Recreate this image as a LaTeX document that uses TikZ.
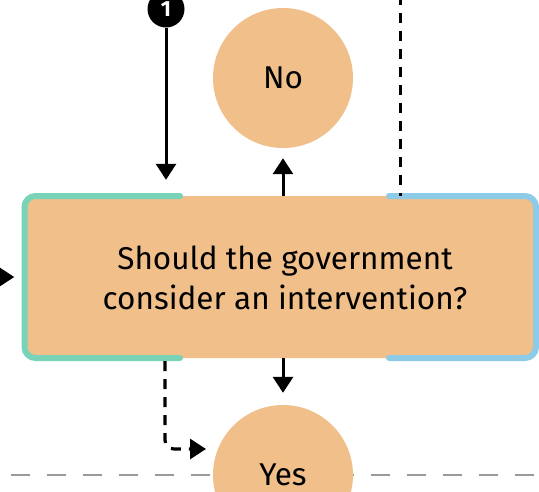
\documentclass[tikz,border=0pt]{standalone}
\usepackage{fontspec}
\setmainfont{Fira Sans}
\usetikzlibrary{arrows.meta}
\definecolor{peach}{HTML}{F0BF8A}
\definecolor{mint}{HTML}{78D3B8}
\definecolor{sky}{HTML}{8ECBE6}
\definecolor{rule}{HTML}{9A9A9A}
\tikzset{
  label text/.style={font=\fontsize{31.5}{40}\selectfont, text=black},
  answer/.style={circle, fill=peach, minimum size=140pt, inner sep=0pt, label text},
  flow/.style={line width=3pt, -{Triangle[length=16pt, width=20pt]}},
  dashflow/.style={line width=3.2pt, dash pattern=on 10pt off 8pt},
  bracket/.style={line width=6pt, line cap=round, rounded corners=11pt},
}
\begin{document}
\begin{tikzpicture}[x=1pt, y=-1pt]
  \useasboundingbox (0,0) rectangle (539,491);
  \clip (0,0) rectangle (539,491);

  % horizontal separator behind the lower answer
  \coordinate (sepL) at (11,475);
  \coordinate (sepR) at (545,475);
  \draw[rule, line width=2pt, dash pattern=on 19pt off 17pt] (sepL) -- (sepR);

  % decision box
  \node[rectangle, fill=peach, rounded corners=10pt, minimum width=511.5pt,
        minimum height=162pt, inner sep=0pt] (box) at (280.25,277) {};
  \node[label text, align=center] (q) at (285,278)
    {Should the government\\consider an intervention?};

  % coloured corner brackets
  \draw[bracket, mint] (180,196) -| (24.5,358) -- (180,358);
  \draw[bracket, sky] (389,196) -| (536,358) -- (389,358);

  % answers
  \node[answer] (no) at (283,78) {No};
  \node[answer] (yes) at (283,475) {Yes};

  % step marker
  \node[circle, fill=black, minimum size=37pt, inner sep=0pt, text=white,
        font=\fontsize{22}{22}\selectfont\bfseries] (one) at (166,9) {1};

  % solid connectors
  \draw[flow, shorten >=16pt] (one.south) -- (one.south |- box.north);
  \draw[flow, shorten >=10pt] (no.south |- box.north) -- (no.south);
  \draw[flow, shorten >=12pt] (yes.north |- box.south) -- (yes.north);
  \coordinate (inL) at (-10,277);
  \draw[flow, shorten >=10pt] (inL) -- (box.west);

  % dashed connectors
  \coordinate (topR) at (400.5,-5);
  \draw[dashflow] (topR) -- (topR |- box.north);
  \coordinate (dstart) at (165,361);
  \coordinate (dtip) at (206,449);
  \draw[dashflow, rounded corners=9pt] (dstart) |- ([xshift=-16pt]dtip);
  \draw[line width=3pt, -{Triangle[length=16pt, width=20pt]}]
    ([xshift=-16pt]dtip) -- (dtip);
\end{tikzpicture}
\end{document}
